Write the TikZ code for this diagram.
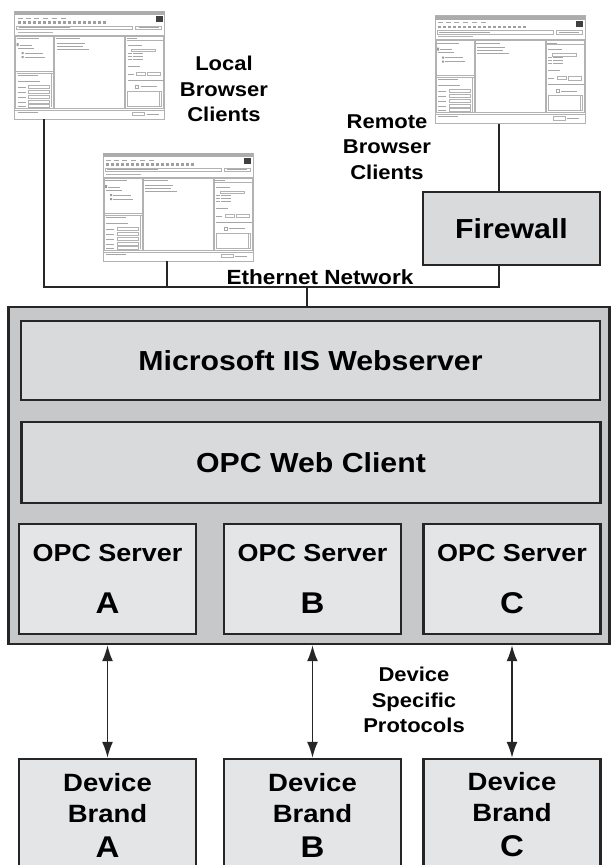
\documentclass[tikz,border=0pt]{standalone}
\usepackage{fontspec}
\setmainfont{Liberation Sans}[FakeStretch=1.1]
\usepackage{xcolor}
\usetikzlibrary{arrows.meta,positioning}

\definecolor{boxline}{HTML}{262626}
\definecolor{hostgray}{HTML}{C7C8CA}
\definecolor{layergray}{HTML}{D9DADC}
\definecolor{srvgray}{HTML}{E4E5E7}

\newcommand{\brandletter}[1]{{\fontsize{30}{32}\selectfont #1}}
% little browser window drawn over a client node
\newcommand{\browserwin}[1]{%
  \begin{scope}[shift={(#1.north west)}, line width=.5pt]
    \fill[gray!65] (0,0) rectangle (150,4);
    \fill[black!75] (141,5) rectangle (148,11);
    \foreach \x in {3,11,19,28,37,46} \draw[gray!70] (\x,7) -- ++(5,0);
    \foreach \x in {3,8,...,88} \fill[gray!75] (\x,10) rectangle ++(3,2.5);
    \draw[gray!60] (2,15) rectangle (118,18.5) (121,15) rectangle (147,18.5);
    \draw[gray!70] (4,16.7) -- (55,16.7) (124,16.7) -- (144,16.7);
    \draw[gray!60] (3,21) -- (38,21) (0,24) -- (150,24);
    \draw[gray!60] (1,25) rectangle (39,97) (40,25) rectangle (110,97)
      (111,25) rectangle (149,97) (1,60) -- (39,60);
    \foreach \x/\w in {2/22,41/24,112/10} \draw[gray!70, line width=.8pt] (\x,27.5) -- ++(\w,0);
    \draw[gray!60] (112,29) -- (149,29) (2,62) -- (39,62);
    % left panes
    \fill[gray!80] (2,32) rectangle ++(2,3) (7,41) rectangle ++(2,2) (7,45) rectangle ++(2,2);
    \draw[gray!70] (5,34) -- ++(12,0) (3,37) -- ++(16,0) (10,42) -- ++(18,0) (10,46) -- ++(20,0);
    \draw[gray!70] (3,64) -- ++(20,0) (3,70) -- ++(22,0);
    \foreach \y in {76,81,86,91,95} {
      \draw[gray!70] (3,\y) -- ++(8,0);
      \draw[gray!60] (14,\y-2) rectangle (35,\y+1);
    }
    \draw[gray!60] (37,62) -- (37,96);
    % middle pane
    \foreach \y/\w in {32/28,35/26,38/32} \draw[gray!70] (42,\y) -- ++(\w,0);
    % right pane
    \draw[gray!70] (113,34) -- ++(14,0) (113,55) -- ++(12,0) (113,63) -- ++(6,0);
    \draw[gray!60] (117,38) rectangle ++(24,2.5);
    \foreach \y in {42,45,48} \draw[gray!70] (113,\y) -- ++(4,0) (118,\y) -- ++(10,0);
    \draw[gray!60] (122,61) rectangle ++(9,3) (133,61) rectangle ++(13,3.5);
    \draw[gray!70] (113,69) -- (149,69);
    \draw[gray!70] (121,74) rectangle ++(3,3);
    \draw[gray!70] (126,75.5) -- ++(16,0);
    \draw[gray!60] (113,80) rectangle (147,95) (145,80) -- (145,95);
    % status bar
    \draw[gray!60] (0,99) -- (150,99) (118,101) rectangle (130,104.5);
    \draw[gray!70] (3,101) -- ++(20,0) (132,103) -- ++(12,0);
  \end{scope}}

\begin{document}
\begin{tikzpicture}[x=1pt, y=-1pt,
  frame/.style={draw=boxline, line width=2.4pt},
  host/.style={frame, fill=hostgray, minimum width=601pt, minimum height=337pt},
  layer/.style={frame, fill=layergray, minimum width=579pt, minimum height=79pt,
    font=\fontsize{27.5}{33}\selectfont\bfseries},
  srv/.style={frame, fill=srvgray, minimum width=177pt, minimum height=110pt, align=center,
    font=\fontsize{24.5}{30}\selectfont\bfseries},
  dev/.style={frame, fill=srvgray, minimum width=177pt, minimum height=112pt, align=center,
    font=\fontsize{25}{31}\selectfont\bfseries},
  browser/.style={draw=gray!60, fill=white, line width=.9pt, minimum width=150pt,
    minimum height=108pt, inner sep=0pt, outer sep=0pt},
  lbl/.style={align=center, font=\fontsize{20}{25.5}\selectfont\bfseries},
  net/.style={line width=2pt, draw=boxline},
  link/.style={line width=1.6pt, draw=boxline, {Latex[length=16pt,width=11pt]}-{Latex[length=16pt,width=11pt]}}]
  \clip (0,0) rectangle (611,865);

  % clients
  \node[browser] (loc1) at (89.5,65) {};
  \node[browser] (loc2) at (178,207) {};
  \node[browser] (rem) at (510,69.5) {};
  \foreach \w in {loc1,loc2,rem} \browserwin{\w};
  \node[lbl] (loclbl) at (224,89) {Local\\Browser\\Clients};
  \node[lbl] (remlbl) at (387,147) {Remote\\Browser\\Clients};
  \node[frame, fill=layergray, minimum width=177pt, minimum height=73pt,
    font=\fontsize{27.5}{33}\selectfont\bfseries] (fw) at (511.5,228.5) {Firewall};

  % server machine
  \node[host] (host) at (309,475.5) {};
  \node[layer] (iis) at (310.5,360.5) {Microsoft IIS Webserver};
  \node[layer, minimum height=81pt] (web) at (311,462.5) {OPC Web Client};
  \node[srv] (srvA) at (107.5,579) {OPC Server\\[22pt]\brandletter{A}};
  \node[srv] (srvB) at (312.5,579) {OPC Server\\[22pt]\brandletter{B}};
  \node[srv] (srvC) at (512,579) {OPC Server\\[22pt]\brandletter{C}};

  % field devices
  \node[dev] (devA) at (107.5,815) {Device\\Brand\\[4pt]\brandletter{A}};
  \node[dev] (devB) at (312.5,815) {Device\\Brand\\[4pt]\brandletter{B}};
  \node[dev] (devC) at (512,815) {Device\\Brand\\[4pt]\brandletter{C}};
  \node[lbl] (proto) at (414,700) {Device\\Specific\\Protocols};

  % ethernet
  \coordinate (busW) at (44,287);
  \coordinate (busE) at (499,287);
  \node[lbl, anchor=base, font=\fontsize{20.5}{24}\selectfont\bfseries] (ethlbl) at (320,284) {Ethernet Network};
  \draw[net] (busW |- loc1.south) -- (busW) -- (busE) -- (busE |- fw.south);
  \draw[net] ([xshift=-11pt]loc2.south) -- ([xshift=-11pt]loc2.south |- busW);
  \draw[net] (busE |- rem.south) -- (busE |- fw.north);
  \draw[net] ([xshift=-2pt]host.north |- busW) -- ([xshift=-2pt]host.north);

  \foreach \s in {A,B,C}
    \draw[link] (srv\s.south |- host.south) -- (dev\s.north);
\end{tikzpicture}
\end{document}
